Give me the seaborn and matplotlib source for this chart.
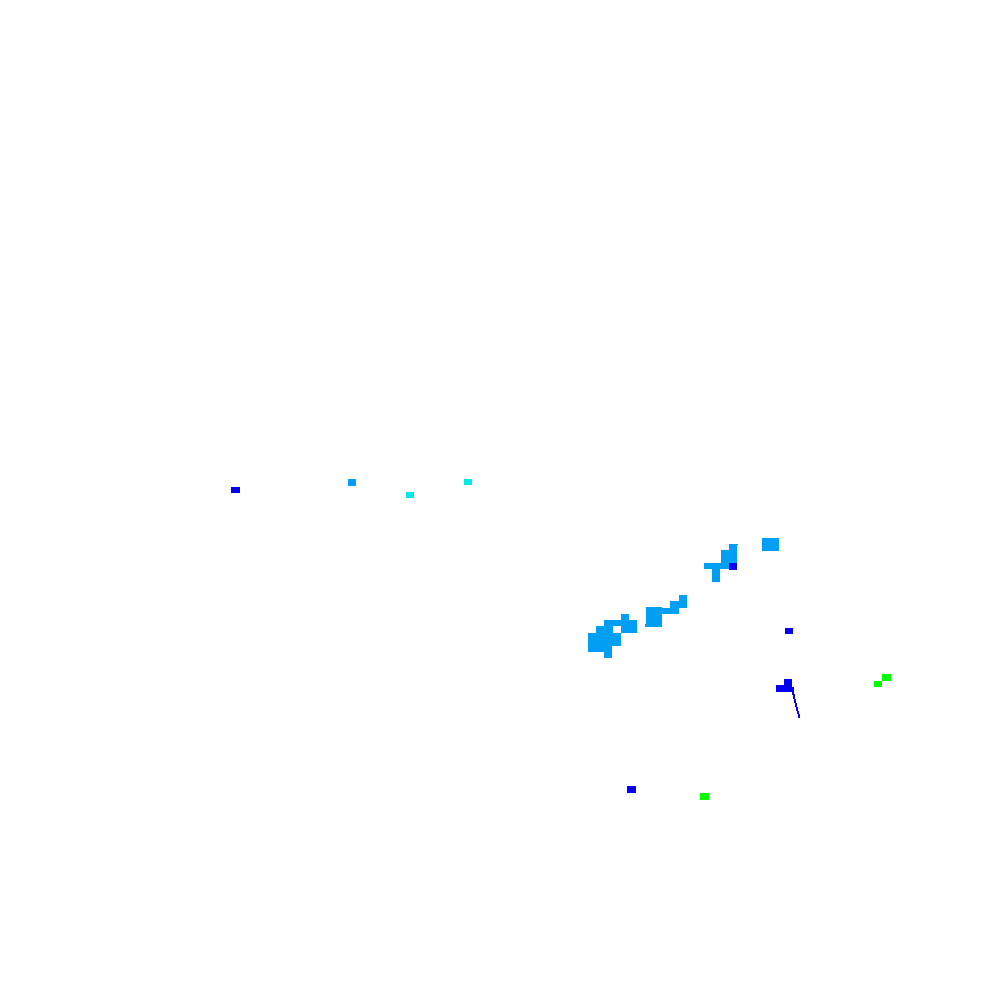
import numpy as np
import matplotlib
matplotlib.use("Agg")
import matplotlib.pyplot as plt
from matplotlib.colors import ListedColormap
import seaborn as sns

# Radar echo tile: 1000 x 1000 grid, echo patches given as
# level and grid row/column spans (end exclusive).
grid_cols = 1000
grid_rows = 1000

level_names = ["5 dBZ", "10 dBZ", "15 dBZ", "20 dBZ"]
level_colors = ["#04e9e7", "#019ff4", "#0300f4", "#02fd02"]

patch_level = [1, 1,
               2, 2, 2, 2, 2, 2, 2, 2,
               2, 2, 2, 2, 2,
               2, 2, 2, 2, 2, 2,
               3, 3, 3, 3, 3,
               3, 3, 3, 3, 3, 3, 3,
               3,
               4, 4, 4]
patch_col0 = [406, 464,
              348, 621, 604, 596, 621, 588, 588, 604,
              646, 645, 662, 670, 679,
              762, 729, 737, 721, 704, 712,
              231, 729, 785, 784, 776,
              792, 793, 794, 795, 796, 797, 798,
              627,
              874, 882, 700]
patch_col1 = [414, 472,
              356, 629, 637, 613, 637, 621, 612, 612,
              662, 646, 670, 679, 687,
              779, 737, 738, 729, 729, 720,
              240, 737, 793, 792, 792,
              794, 795, 796, 797, 798, 799, 800,
              636,
              882, 891, 709]
patch_row0 = [492, 479,
              479, 614, 620, 626, 626, 633, 646, 652,
              607, 624, 608, 601, 595,
              538, 544, 544, 550, 563, 569,
              487, 563, 628, 679, 685,
              687, 694, 699, 703, 707, 711, 714,
              786,
              681, 674, 793]
patch_row1 = [498, 485,
              486, 620, 626, 633, 633, 646, 652, 658,
              627, 627, 614, 614, 608,
              551, 563, 545, 563, 569, 582,
              493, 570, 634, 686, 692,
              695, 699, 703, 707, 711, 714, 718,
              793,
              687, 681, 800]

grid = np.zeros((grid_rows, grid_cols), dtype=np.uint8)
for lv, c0, c1, r0, r1 in zip(patch_level, patch_col0, patch_col1, patch_row0, patch_row1):
    grid[r0:r1, c0:c1] = lv

fig = plt.figure(figsize=(10, 10), dpi=100, facecolor="white")
ax = fig.add_axes([0, 0, 1, 1])
cmap = ListedColormap(level_colors)
sns.heatmap(grid, mask=(grid == 0), cmap=cmap, vmin=0.5, vmax=4.5,
            cbar=False, xticklabels=False, yticklabels=False,
            linewidths=0, ax=ax, square=False)
ax.set_axis_off()
fig.savefig("out.png", dpi=100, facecolor="white")
